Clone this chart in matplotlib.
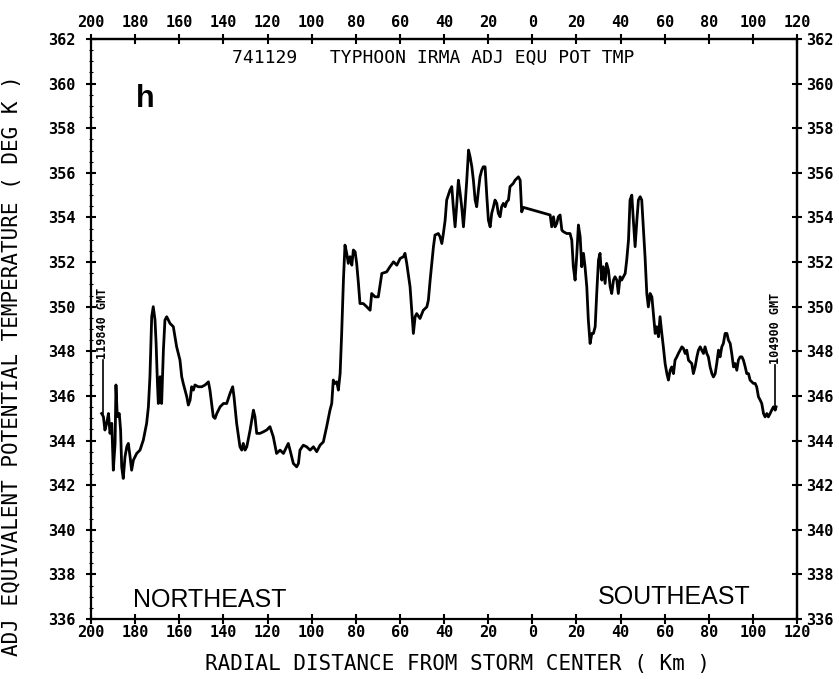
import matplotlib
matplotlib.use("Agg")
import matplotlib.pyplot as plt
from matplotlib.ticker import FuncFormatter, MultipleLocator

# radial distance (km), negative = northeast leg, positive = southeast leg
dist = [-195.2, -194.4, -193.7, -192.9, -192.1, -191.4, -190.6, -189.9, -189.1, -188.7,
        -188.1, -187.2, -186.6, -186.1, -185.4, -184.6, -183.8, -183.1, -182.3, -181.6,
        -180.8, -179.3, -177.8, -176.3, -174.8, -174.0, -173.3, -172.5, -171.8, -171.0,
        -170.5, -169.9, -169.5, -168.7, -168.0, -167.2, -166.5, -165.7, -164.2, -162.7,
        -161.2, -159.7, -158.9, -158.2, -156.6, -155.9, -155.1, -154.4, -153.6, -152.9,
        -151.4, -149.8, -148.3, -146.8, -146.1, -144.6, -143.8, -143.0, -141.5, -140.0,
        -138.5, -137.0, -135.8, -135.2, -134.0, -132.5, -131.7, -131.0, -130.2, -129.4,
        -127.9, -126.4, -125.7, -124.9, -123.4, -121.9, -120.4, -118.9, -117.4, -115.9,
        -114.3, -112.8, -111.3, -110.6, -109.8, -108.3, -106.8, -106.0, -105.3, -103.8,
        -102.3, -100.7, -99.2, -97.7, -96.2, -94.7, -93.2, -91.7, -90.9, -90.2,
        -89.4, -88.6, -87.9, -87.1, -86.4, -85.6, -84.9, -84.1, -83.4, -82.6,
        -81.8, -81.1, -80.3, -79.6, -78.8, -78.1, -76.6, -75.0, -73.5, -72.8,
        -71.3, -69.8, -68.2, -66.0, -64.5, -62.9, -61.4, -59.9, -58.4, -57.7,
        -56.9, -55.4, -53.9, -53.1, -52.4, -50.9, -49.4, -47.8, -47.1, -46.3,
        -44.8, -44.1, -42.6, -41.8, -41.0, -40.3, -39.5, -38.8, -37.3, -36.5,
        -35.8, -35.0, -34.2, -33.5, -32.7, -32.0, -31.2, -30.5, -29.7, -28.9,
        -28.2, -27.4, -26.7, -25.9, -25.2, -24.4, -23.7, -22.9, -22.2, -21.4,
        -20.6, -19.9, -19.1, -18.4, -17.6, -16.9, -16.1, -15.4, -14.6, -13.9,
        -13.1, -12.3, -11.6, -10.8, -10.1, -8.6, -7.8, -7.0, -6.3, -5.5,
        -5.2, -4.8, -4.0, 8.1, 8.8, 9.6, 10.3, 11.1, 11.8, 12.6,
        13.4, 14.1, 15.6, 17.1, 17.9, 18.6, 19.4, 20.2, 20.9, 21.7,
        22.4, 23.2, 23.9, 24.7, 25.4, 26.2, 27.0, 27.7, 28.5, 29.2,
        30.0, 30.7, 31.5, 32.2, 33.0, 33.7, 34.5, 35.3, 36.0, 36.8,
        37.5, 38.3, 39.0, 39.8, 40.5, 41.3, 42.1, 42.8, 43.6, 44.3,
        45.1, 45.8, 46.6, 47.4, 48.1, 48.9, 49.6, 50.4, 51.1, 51.9,
        52.6, 53.4, 54.2, 54.9, 55.7, 56.4, 57.2, 57.9, 58.7, 59.4,
        60.2, 61.0, 61.7, 62.5, 63.2, 64.0, 64.7, 65.5, 66.2, 67.0,
        67.8, 68.5, 69.3, 70.0, 70.8, 72.3, 73.0, 73.8, 74.6, 75.3,
        76.1, 76.8, 77.6, 78.3, 79.1, 79.8, 80.6, 81.4, 82.1, 82.9,
        83.6, 84.4, 85.1, 85.9, 86.6, 87.4, 88.2, 88.9, 89.7, 90.4,
        91.2, 91.9, 92.7, 93.4, 94.2, 95.0, 95.7, 96.5, 97.2, 98.0,
        98.7, 100.2, 101.0, 101.7, 102.5, 103.3, 104.0, 104.8, 105.5, 106.3,
        107.0, 107.8, 108.5, 109.3, 110.1, 110.5]

# adjusted equivalent potential temperature (K)
theta_e = [345.21, 345.07, 344.47, 344.77, 345.21, 344.32, 344.77, 342.67, 343.87, 346.49,
           345.07, 345.21, 344.47, 342.82, 342.30, 343.27, 343.72, 343.87, 343.27, 342.67,
           343.12, 343.42, 343.57, 344.02, 344.77, 345.51, 346.86, 349.55, 350.00, 349.40,
           348.35, 346.56, 345.66, 346.86, 345.66, 348.05, 349.40, 349.55, 349.25, 349.10,
           348.20, 347.61, 346.86, 346.56, 345.96, 345.59, 345.81, 346.41, 346.26, 346.49,
           346.41, 346.41, 346.49, 346.63, 346.26, 345.07, 344.99, 345.21, 345.51, 345.66,
           345.66, 346.11, 346.41, 345.96, 344.77, 343.72, 343.57, 343.87, 343.57, 343.72,
           344.47, 345.36, 345.07, 344.32, 344.32, 344.39, 344.47, 344.62, 344.17, 343.42,
           343.57, 343.42, 343.72, 343.87, 343.57, 342.97, 342.82, 342.97, 343.57, 343.79,
           343.72, 343.57, 343.72, 343.50, 343.79, 343.94, 344.62, 345.36, 345.66, 346.71,
           346.56, 346.63, 346.26, 347.00, 348.80, 351.19, 352.76, 352.39, 351.94, 352.24,
           351.86, 352.54, 352.46, 351.94, 351.04, 350.14, 350.14, 349.99, 349.84, 350.59,
           350.44, 350.44, 351.49, 351.56, 351.79, 352.01, 351.86, 352.16, 352.24, 352.39,
           351.94, 350.89, 348.80, 349.55, 349.69, 349.47, 349.84, 349.99, 350.29, 351.19,
           352.69, 353.21, 353.28, 353.13, 352.83, 353.28, 353.88, 354.78, 355.23, 355.38,
           354.48, 353.58, 354.63, 355.67, 355.08, 354.48, 353.58, 354.48, 355.67, 357.02,
           356.72, 356.27, 355.67, 354.78, 354.48, 355.23, 355.82, 356.12, 356.27, 356.27,
           354.93, 353.88, 353.58, 354.18, 354.48, 354.78, 354.63, 354.18, 354.03, 354.48,
           354.63, 354.48, 354.70, 354.78, 355.38, 355.53, 355.67, 355.75, 355.82, 355.67,
           355.08, 354.25, 354.45, 354.11, 353.58, 354.03, 353.58, 353.73, 354.03, 354.11,
           353.43, 353.36, 353.28, 353.28, 352.98, 351.79, 351.19, 352.39, 353.66, 353.13,
           351.79, 352.39, 351.79, 350.89, 349.40, 348.35, 348.80, 348.80, 349.10, 350.59,
           352.09, 352.39, 351.19, 351.79, 351.04, 351.94, 351.64, 350.89, 350.59, 351.19,
           351.34, 351.19, 350.59, 351.34, 351.19, 351.34, 351.49, 352.09, 352.98, 354.78,
           355.00, 353.88, 352.69, 353.88, 354.78, 354.93, 354.78, 353.43, 352.24, 350.59,
           349.99, 350.59, 350.44, 349.69, 348.80, 349.10, 348.65, 349.55, 348.80, 348.20,
           347.45, 347.00, 346.71, 347.15, 347.30, 347.00, 347.60, 347.75, 347.90, 348.05,
           348.20, 348.13, 347.90, 348.05, 347.60, 347.45, 347.00, 347.30, 347.75, 348.05,
           348.20, 348.05, 347.90, 348.20, 347.90, 347.75, 347.30, 347.00, 346.85, 347.00,
           347.45, 348.05, 347.75, 348.20, 348.35, 348.80, 348.80, 348.50, 348.35, 347.90,
           347.30, 347.45, 347.15, 347.60, 347.75, 347.75, 347.60, 347.30, 347.00, 347.00,
           346.71, 346.56, 346.56, 346.41, 345.96, 345.81, 345.66, 345.21, 345.06, 345.21,
           345.06, 345.21, 345.36, 345.51, 345.36, 345.51]

x_ticks = list(range(-200, 121, 20))
y_ticks = list(range(336, 363, 2))

start_mark = (-194.7, 345.2, 347.6, "119840 GMT")
end_mark = (110.1, 345.4, 347.4, "104900 GMT")

mono = "DejaVu Sans Mono"
abs_fmt = FuncFormatter(lambda v, p: "%d" % abs(v))

fig = plt.figure(figsize=(8.39, 6.79), dpi=100)
ax = fig.add_axes([0.1085, 0.0884, 0.8415, 0.8542])

ax.plot(dist, theta_e, color="black", lw=2.0, solid_joinstyle="round")

# time marks at start and end of the leg
for xm, y0, y1, lab in (start_mark, end_mark):
    ax.plot([xm, xm], [y0, y1], color="black", lw=1.2)
    ax.text(xm, y1 + 0.05, lab, rotation=90, ha="center", va="bottom",
            family=mono, fontweight="bold", fontsize=8.5)

ax.set_xlim(-200, 120)
ax.set_ylim(336, 362)
ax.set_xticks(x_ticks)
ax.set_yticks(y_ticks)
ax.xaxis.set_major_formatter(abs_fmt)
ax.yaxis.set_minor_locator(MultipleLocator(0.5))
ax.tick_params(axis="both", which="major", direction="inout", length=7, width=1.5,
               top=False, right=False, labelsize=11)
ax.tick_params(axis="x", which="major", pad=1)
ax.tick_params(axis="y", which="major", pad=8)
ax.tick_params(axis="y", which="minor", direction="inout", length=3, width=0.8)

# top and right scales carry the same labels
top = ax.secondary_xaxis("top")
top.set_xticks(x_ticks)
top.xaxis.set_major_formatter(abs_fmt)
top.tick_params(direction="inout", length=7, width=1.5, labelsize=11, pad=3)
right = ax.secondary_yaxis("right")
right.set_yticks(y_ticks)
right.tick_params(direction="inout", length=7, width=1.5, labelsize=11, pad=3)

for a in (ax, top, right):
    for lab in a.get_xticklabels() + a.get_yticklabels():
        lab.set_family(mono)
        lab.set_fontweight("bold")
    for s in a.spines.values():
        s.set_linewidth(1.6)

ax.text(-45, 361.15, "741129   TYPHOON IRMA ADJ EQU POT TMP", ha="center", va="center",
        family=mono, fontsize=13)
ax.text(-179.5, 358.95, "h", ha="left", va="baseline", family="Liberation Sans",
        fontweight="bold", fontsize=22)
ax.text(-181, 336.55, "NORTHEAST", ha="left", va="baseline", family="Liberation Sans",
        fontsize=18)
ax.text(29.8, 336.65, "SOUTHEAST", ha="left", va="baseline", family="Liberation Sans",
        fontsize=18)

fig.text(0.014, 0.462, "ADJ EQUIVALENT POTENTIAL TEMPERATURE ( DEG K )", rotation=90,
         ha="center", va="center", family=mono, fontsize=15)
fig.text(0.545, 0.022, "RADIAL DISTANCE FROM STORM CENTER ( Km )", ha="center",
         va="center", family=mono, fontsize=15)

fig.savefig("out.png", dpi=100, facecolor="white")
